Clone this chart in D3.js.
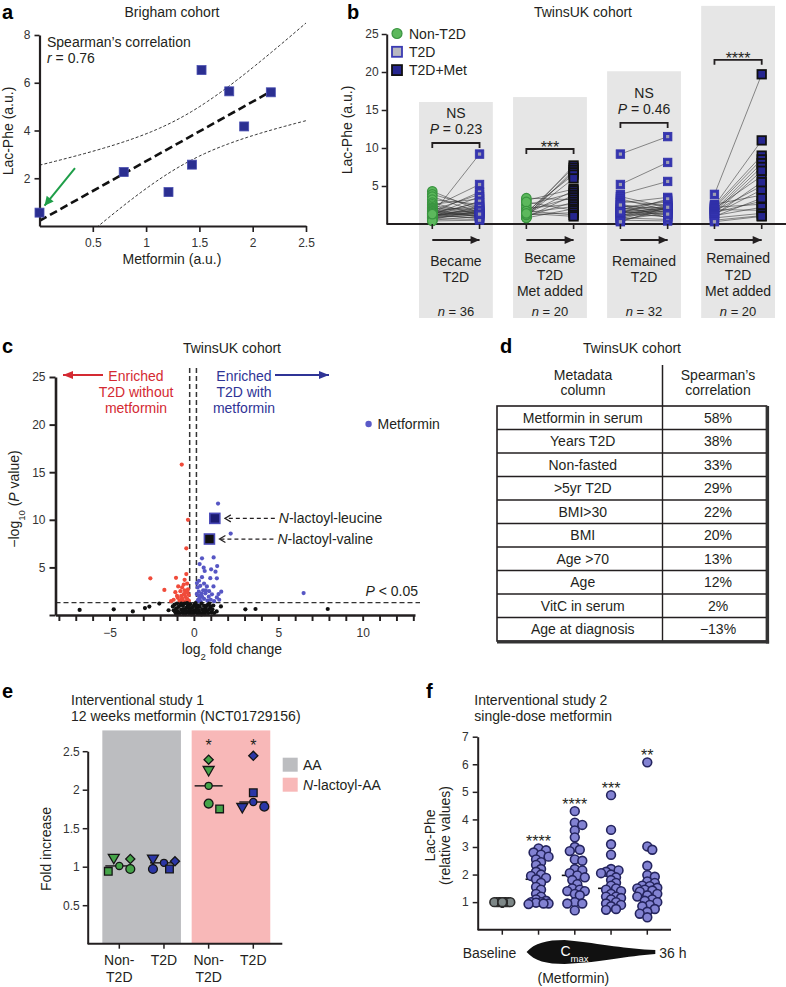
<!DOCTYPE html>
<html>
<head>
<meta charset="utf-8">
<title>Lac-Phe and metformin</title>
<script src="https://cdn.jsdelivr.net/npm/d3@7"></script>
<style>
  body { margin: 0; background: #fff; }
  svg { display: block; font-family: "Liberation Sans", Arial, sans-serif; }
</style>
</head>
<body>
<script>
// ---------------- data ----------------

// a: Brigham cohort
const brighamMetformin = [0.00, 0.79, 1.21, 1.43, 1.52, 1.78, 1.92, 2.17];
const brighamLacPhe    = [0.56, 2.26, 1.42, 2.57, 6.53, 5.64, 4.17, 5.60];
const aXTicks = [0.5, 1, 1.5, 2, 2.5];
const aYTicks = [2, 4, 6, 8];

// b: TwinsUK paired samples (before -> after)
const bGroups = ['Became T2D', 'Became T2D, Met added', 'Remained T2D', 'Remained T2D, Met added'];
const bLabelLines = [['Became', 'T2D'], ['Became', 'T2D', 'Met added'], ['Remained', 'T2D'], ['Remained', 'T2D', 'Met added']];
const bN = [36, 20, 32, 20];
const bPreKind  = ['non', 'non', 't2d', 't2d'];
const bPostKind = ['t2d', 'met', 't2d', 'met'];
const bPre = [
  [1.3, 4.3, 3.9, 3.6, 3.2, 2.8, 2.6, 2.4, 2.2, 2.1, 2.0, 1.9, 1.8, 1.7, 1.6, 1.6, 1.5, 1.5, 1.4, 1.4, 1.3, 1.2, 1.2, 1.1, 1.1, 1.0, 1.0, 0.9, 0.9, 0.8, 0.8, 0.7, 0.6, 0.5, 0.4, 1.3],
  [1.0, 1.4, 0.9, 1.2, 1.6, 1.1, 3.1, 1.3, 2.5, 0.9, 1.8, 3.4, 1.0, 2.1, 1.5, 0.8, 2.9, 1.2, 1.7, 1.4],
  [9.2, 5.2, 3.9, 3.6, 3.3, 3.0, 2.8, 2.6, 2.4, 2.2, 2.1, 2.0, 1.9, 1.8, 1.7, 1.6, 1.5, 1.5, 1.4, 1.3, 1.2, 1.1, 1.0, 0.9, 0.8, 0.7, 0.6, 0.5, 0.4, 0.3, 2.5, 1.6],
  [3.9, 2.6, 2.4, 2.3, 2.2, 2.1, 2.0, 1.9, 1.8, 1.7, 1.6, 1.5, 1.4, 1.3, 1.2, 1.1, 1.0, 0.8, 0.5, 0.3]
];
const bPost = [
  [9.2, 1.8, 2.2, 1.5, 2.6, 1.2, 3.3, 1.6, 5.2, 1.4, 2.0, 0.9, 3.9, 1.3, 2.4, 1.0, 4.2, 1.7, 2.8, 1.1, 0.7, 3.6, 1.5, 2.1, 0.8, 3.0, 1.9, 1.6, 2.3, 1.2, 1.4, 0.6, 1.8, 1.0, 0.5, 1.3],
  [7.7, 7.4, 7.1, 6.8, 6.5, 6.0, 4.6, 4.4, 4.1, 3.8, 3.5, 3.2, 2.9, 2.6, 2.3, 2.0, 1.8, 1.5, 1.2, 1.0],
  [11.5, 8.1, 5.6, 2.2, 1.8, 2.4, 3.5, 1.5, 2.0, 2.9, 1.2, 2.2, 3.1, 1.9, 0.9, 2.7, 1.7, 2.1, 3.3, 1.0, 2.0, 2.5, 1.6, 2.3, 0.6, 2.1, 1.4, 0.4, 1.9, 2.2, 0.8, 1.3],
  [19.7, 3.8, 11.0, 9.0, 2.6, 8.5, 6.3, 1.8, 8.0, 5.0, 7.5, 3.0, 7.0, 4.5, 5.5, 2.2, 3.4, 1.4, 1.1, 1.0]
];
const bSig = ['NS', '***', 'NS', '****'];
const bPValue = [0.23, null, 0.46, null];
const bYTicks = [5, 10, 15, 20, 25];

// c: volcano plot (log2 fold change, -log10 P)
const volcanoLog2FC = [
  // enriched without metformin
  -0.72, -0.35, -0.45, -0.45, -2.58, -1.06, -1.75, -0.55, -0.93, -1.10, -0.70, -0.40, -0.60, -0.80, -0.35, -0.50,
  -0.95, -1.20, -0.65, -0.40, -0.30, -0.75, -0.55, -0.85, -0.45, -1.00, -0.30, -0.60, -0.38, -0.70, -0.50, -1.35,
  // enriched with metformin
  1.43, 2.18, 6.50, 0.48, 1.17, 0.34, 0.58, 0.64, 1.02, 1.38, 1.28, 0.48, 0.97, 1.36, 0.18, 0.38, 0.77, 1.16, 1.62, 1.46,
  1.07, 0.88, 0.68, 0.29, 0.48, 0.17, 1.36, 0.25, 0.40, 0.60, 0.30, 0.55, 0.22, 0.80, 1.00, 0.45, 0.35, 0.70, 0.20, 1.20,
  0.90, 0.60, 0.30, 1.50,
  // not significant
  -6.77, -4.75, -3.62, -2.90, -2.64, -2.05, 3.05, 3.65, 7.93, 1.35, 0.96, 1.60, 1.20, -1.50,
  -1.25, -1.20, -1.15, -1.10, -1.05, -1.00, -0.95, -0.90, -0.85, -0.80, -0.75, -0.70, -0.65, -0.60, -0.55, -0.50,
  -0.45, -0.40, -0.35, -0.30, -0.25, -0.20, -0.15, -0.10, -0.05, 0.00, 0.05, 0.10, 0.15, 0.20, 0.25, 0.30,
  0.35, 0.40, 0.45, 0.50, 0.55, 0.60, 0.65, 0.70, 0.75, 0.80, 0.85, 0.90, 1.00, 1.05, 1.10, 1.15,
  -0.90, -0.60, -0.30, 0.00, 0.20, -0.15, -0.50, 0.45, 0.75, -0.75, -1.05, 0.10, -0.20, 0.60, -0.40, 0.30,
  -0.65, 0.90, -0.10, 0.15
];
const volcanoNegLogP = [
  15.8, 10.0, 7.0, 4.3, 3.85, 3.9, 2.63, 3.7, 3.0, 2.4, 2.9, 3.3, 2.2, 2.5, 2.7, 1.9,
  1.8, 1.6, 1.5, 1.7, 2.1, 2.0, 2.6, 1.5, 1.45, 2.0, 1.5, 3.2, 2.4, 1.75, 2.3, 1.45,
  11.7, 8.55, 2.3, 5.95, 6.05, 5.35, 4.97, 4.62, 4.8, 5.14, 4.55, 3.97, 3.87, 3.85, 3.35, 3.06, 3.0, 3.0, 2.45, 2.2,
  2.17, 1.92, 2.28, 2.45, 1.92, 2.2, 1.85, 1.6, 1.45, 1.7, 2.0, 2.6, 2.9, 1.5, 1.6, 2.25, 1.8, 2.6, 1.4, 1.45,
  2.5, 3.3, 3.6, 1.6,
  0.53, 0.6, 0.38, 0.73, 0.88, 1.2, 0.6, 0.63, 0.63, 0.38, 0.73, 0.9, 0.2, 0.5,
  0.9, 0.5, 1.1, 0.3, 0.7, 1.2, 0.4, 0.85, 0.15, 1.05, 0.55, 0.25, 0.95, 0.6, 1.2, 0.1,
  0.75, 0.4, 1.0, 0.2, 0.65, 1.15, 0.35, 0.8, 0.1, 0.5, 1.1, 0.3, 0.7, 0.15, 1.0, 0.45,
  0.85, 0.2, 1.2, 0.6, 0.3, 0.95, 0.1, 0.7, 0.4, 1.05, 0.2, 0.55, 0.9, 0.25, 0.6, 1.0,
  0.2, 0.1, 0.9, 0.95, 0.55, 0.05, 0.45, 0.05, 0.95, 1.2, 0.05, 1.25, 0.5, 0.45, 1.25, 0.1,
  0.4, 1.2, 0.25, 0.95
];
const volcanoHighlights = [
  { name: 'Metformin', lfc: 10.35, p: 20.06 },
  { name: 'N-lactoyl-leucine', lfc: 1.24, p: 10.15 },
  { name: 'N-lactoyl-valine', lfc: 0.92, p: 7.98 }
];
const lfcCut = [-0.25, 0.15];
const pCut = 1.3;   // -log10(0.05)
const cXTickLabels = [-5, 0, 5, 10];
const cYTicks = [0, 5, 10, 15, 20, 25];

// d: correlation table
const metaColumn = ['Metformin in serum', 'Years T2D', 'Non-fasted', '>5yr T2D', 'BMI>30', 'BMI', 'Age >70', 'Age', 'VitC in serum', 'Age at diagnosis'];
const spearmanPct = [58, 38, 33, 29, 22, 20, 13, 12, 2, -13];

// e: interventional study 1 (fold increase), five subjects per group
const eCategoryLines = [['Non-', 'T2D'], ['T2D'], ['Non-', 'T2D'], ['T2D']];
const eCohort = ['non', 't2d', 'non', 't2d'];
const eShapes = ['dot', 'circle', 'diamond', 'square', 'triangle'];
const eValues = [
  [1.01, 0.97, 1.10, 0.94, 1.12],
  [1.05, 0.97, 1.07, 0.97, 1.11],
  [2.05, 1.82, 2.39, 1.75, 2.26],
  [1.84, 1.78, 2.44, 1.96, 1.78]
];
const eSig = [null, null, '*', '*'];
const eYTicks = [0.5, 1, 1.5, 2, 2.5];

// f: interventional study 2 (relative Lac-Phe)
const fTimes = ['Baseline', 't1', 'Cmax', 't3', '36 h'];
const fValues = [
  [1.0, 1.0, 1.0, 1.0, 1.0, 1.0, 1.0, 1.0, 1.0, 1.0, 1.0, 1.0, 1.0, 1.0, 1.0, 1.0, 1.0, 1.0, 1.0, 1.0, 1.0, 1.0, 1.0, 1.0, 1.0, 1.0, 1.0],
  [2.95, 2.88, 2.8, 2.72, 2.65, 2.55, 2.45, 2.35, 2.2, 2.1, 2.0, 1.95, 1.88, 1.83, 1.7, 1.55, 1.45, 1.3, 1.2, 1.1, 1.05, 1.0, 1.0, 0.98, 0.95, 0.95, 0.93],
  [4.3, 3.88, 3.8, 3.6, 3.35, 3.0, 2.9, 2.85, 2.55, 2.5, 2.2, 2.15, 2.05, 1.97, 1.9, 1.8, 1.65, 1.5, 1.45, 1.4, 1.4, 1.3, 1.25, 1.0, 0.95, 0.95, 0.7],
  [4.88, 3.62, 3.1, 2.72, 2.2, 2.15, 2.1, 2.05, 2.0, 1.9, 1.8, 1.7, 1.6, 1.5, 1.45, 1.4, 1.3, 1.2, 1.2, 1.15, 1.1, 1.0, 0.95, 0.9, 0.85, 0.75, 0.72],
  [6.07, 3.02, 2.9, 2.32, 1.98, 1.92, 1.75, 1.7, 1.6, 1.58, 1.52, 1.5, 1.45, 1.42, 1.38, 1.3, 1.25, 1.2, 1.1, 1.05, 1.0, 0.9, 0.85, 0.75, 0.65, 0.58, 0.45]
];
const fSig = [null, '****', '****', '***', '**'];
const fYTicks = [1, 2, 3, 4, 5, 6, 7];

// ---------------- drawing ----------------
const INK = '#231f20';
const GREEN = '#5cb85c', GREEN_D = '#3a9440';
const NAVY = '#2b2f91';
const svg = d3.select('body').append('svg').attr('width', 786).attr('height', 987);
const defs = svg.append('defs');

function txt(g, x, y, s, o = {}) {
  const t = g.append('text').attr('x', x).attr('y', y)
    .attr('font-size', o.size || 14).attr('fill', o.fill || INK)
    .attr('text-anchor', o.anchor || 'start');
  if (o.weight) t.attr('font-weight', o.weight);
  if (o.italic) t.attr('font-style', 'italic');
  if (o.rotate) t.attr('transform', `rotate(${o.rotate},${x},${y})`);
  if (s != null) t.text(s);
  return t;
}
function rich(g, x, y, parts, o = {}) {
  const t = txt(g, x, y, null, o);
  parts.forEach(p => {
    const [s, f] = Array.isArray(p) ? p : [p, ''];
    const sp = t.append('tspan').text(s);
    if (f === 'i') sp.attr('font-style', 'italic');
    if (f === 'sub') sp.attr('baseline-shift', 'sub').attr('font-size', (o.size || 14) * 0.68);
  });
  return t;
}
function letter(g, x, y, s) { txt(g, x, y, s, { size: 20, weight: 'bold', fill: '#000' }); }

function styleAxis(g, lw) {
  g.attr('font-family', null).attr('font-size', null);
  g.select('.domain').attr('stroke', INK).attr('stroke-width', lw);
  g.selectAll('.tick line').attr('stroke', INK).attr('stroke-width', lw * 0.75);
  g.selectAll('.tick text').attr('font-size', 12).attr('fill', '#333');
}

function arrowMarker(id, color, len, half, open) {
  const m = defs.append('marker').attr('id', id).attr('markerUnits', 'userSpaceOnUse')
    .attr('viewBox', `-1 ${-half - 1} ${len + 2} ${2 * half + 2}`)
    .attr('refX', len).attr('refY', 0)
    .attr('markerWidth', len + 2).attr('markerHeight', 2 * half + 2).attr('orient', 'auto');
  m.append('path').attr('d', `M0,${-half}L${len},0L0,${half}` + (open ? '' : 'Z'))
    .attr('fill', open ? 'none' : color).attr('stroke', open ? color : 'none')
    .attr('stroke-width', 1.2);
}
arrowMarker('arBlack', INK, 9, 4, false);
arrowMarker('arGreen', '#1e9e48', 9, 4.5, false);
arrowMarker('arRed', '#d42a32', 10, 4, false);
arrowMarker('arBlue', '#2f3496', 10, 4, false);
arrowMarker('arOpen', INK, 6, 3.5, true);

// simple deterministic beeswarm: returns x offsets
function swarm(values, yScale, step, maxHalf, dist) {
  const cands = [0];
  for (let k = 1; k * step <= maxHalf + 1e-9; k++) cands.push(k * step, -k * step);
  const placed = [];
  return values.map(v => {
    const py = yScale(v);
    let best = 0, bestD = -1;
    for (const c of cands) {
      let m = Infinity;
      for (const p of placed) m = Math.min(m, Math.hypot(p[0] - c, p[1] - py));
      if (m >= dist) { best = c; bestD = m; break; }
      if (m > bestD) { bestD = m; best = c; }
    }
    placed.push([best, py]);
    return best;
  });
}

// ===== panel a =====
{
  const g = svg.append('g');
  letter(g, 2, 19, 'a');
  txt(g, 172, 17, 'Brigham cohort', { anchor: 'middle' });
  const x = d3.scaleLinear().domain([0, 2.5]).range([39.5, 306]);
  const y = d3.scaleLinear().domain([0, 8]).range([226, 35]);

  defs.append('clipPath').attr('id', 'clipA').append('rect')
    .attr('x', x(0)).attr('y', 0).attr('width', x(2.5) - x(0)).attr('height', y(0));

  // least-squares fit with 90% confidence band
  const n = brighamMetformin.length;
  const mx = d3.mean(brighamMetformin), my = d3.mean(brighamLacPhe);
  const sxx = d3.sum(brighamMetformin, v => (v - mx) ** 2);
  const sxy = d3.sum(brighamMetformin.map((v, i) => (v - mx) * (brighamLacPhe[i] - my)));
  const slope = sxy / sxx, icpt = my - slope * mx;
  const sRes = Math.sqrt(d3.sum(brighamMetformin.map((v, i) => (brighamLacPhe[i] - icpt - slope * v) ** 2)) / (n - 2));
  const tCrit = 1.943;
  const xs = d3.range(0, 2.5001, 0.025);
  const half = v => tCrit * sRes * Math.sqrt(1 / n + (v - mx) ** 2 / sxx);
  const bandLine = sign => d3.line().x(v => x(v)).y(v => y(icpt + slope * v + sign * half(v)));
  [-1, 1].forEach(s => g.append('path').attr('d', bandLine(s)(xs)).attr('clip-path', 'url(#clipA)')
    .attr('fill', 'none').attr('stroke', '#333').attr('stroke-width', 1).attr('stroke-dasharray', '3,2'));
  g.append('line')
    .attr('x1', x(0)).attr('y1', y(icpt))
    .attr('x2', x(d3.max(brighamMetformin))).attr('y2', y(icpt + slope * d3.max(brighamMetformin)))
    .attr('stroke', '#111').attr('stroke-width', 2.6).attr('stroke-dasharray', '8,4');

  g.append('g').attr('transform', `translate(0,${y(0)})`)
    .call(d3.axisBottom(x).tickValues(aXTicks).tickFormat(d => d).tickSize(6).tickSizeOuter(0).tickPadding(6))
    .call(styleAxis, 2.2);
  g.append('g').attr('transform', `translate(${x(0)},0)`)
    .call(d3.axisLeft(y).tickValues(aYTicks).tickSize(5).tickSizeOuter(0).tickPadding(4))
    .call(styleAxis, 2.2);

  g.selectAll('rect.pt').data(brighamMetformin).enter().append('rect').attr('class', 'pt')
    .attr('x', d => x(d) - 4.5).attr('y', (d, i) => y(brighamLacPhe[i]) - 4.5)
    .attr('width', 9).attr('height', 9).attr('fill', NAVY).attr('stroke', '#4a4fb0').attr('stroke-width', 0.8);

  txt(g, 47, 47, 'Spearman\u2019s correlation');
  rich(g, 47, 63, [['r', 'i'], ' = 0.76']);
  txt(g, 172, 264, 'Metformin (a.u.)', { anchor: 'middle' });
  txt(g, 13, 131, 'Lac-Phe (a.u.)', { anchor: 'middle', rotate: -90 });

  // arrow pointing to the metformin-free sample
  const px = x(brighamMetformin[0]), py = y(brighamLacPhe[0]);
  g.append('line').attr('x1', px + 35.5).attr('y1', py - 44.5).attr('x2', px + 5).attr('y2', py - 7)
    .attr('stroke', '#1e9e48').attr('stroke-width', 2).attr('marker-end', 'url(#arGreen)');
}

// ===== panel b =====
{
  const g = svg.append('g');
  letter(g, 347, 19, 'b');
  txt(g, 583, 17, 'TwinsUK cohort', { anchor: 'middle' });
  const y = d3.scaleLinear().domain([0, 25]).range([224, 34]);
  const x = d3.scaleBand().domain(bGroups).range([419, 775]).paddingInner(0.215);
  const bw = x.bandwidth();
  const shadeTop = [16.05, 16.7, 20.1, 28.7];
  const bracketAt = [10.66, 9.87, 13.3, 21.6];
  const shadeBottom = 318;
  const preX = d => x(d) + bw / 2 - bw * 0.32, postX = d => x(d) + bw / 2 + bw * 0.32;

  g.selectAll('rect.shade').data(bGroups).enter().append('rect').attr('class', 'shade')
    .attr('x', d => x(d)).attr('width', bw)
    .attr('y', (d, i) => y(shadeTop[i])).attr('height', (d, i) => shadeBottom - y(shadeTop[i]))
    .attr('fill', '#e6e6e6');

  // baseline axis
  g.append('line').attr('x1', 386.7).attr('x2', 786).attr('y1', y(0)).attr('y2', y(0))
    .attr('stroke', INK).attr('stroke-width', 2);
  g.append('g').attr('transform', 'translate(386.7,0)')
    .call(d3.axisLeft(y).tickValues(bYTicks).tickSize(5).tickSizeOuter(0).tickPadding(3))
    .call(styleAxis, 2);
  txt(g, 352, 130, 'Lac-Phe (a.u.)', { anchor: 'middle', rotate: -90 });

  const marker = (sel, kind, size, legend) => {
    if (kind === 'non') {
      sel.append('circle').attr('r', size / 2).attr('fill', GREEN).attr('stroke', GREEN_D).attr('stroke-width', 1.2);
    } else if (kind === 't2d') {
      if (legend) {
        sel.append('rect').attr('x', -size / 2).attr('y', -size / 2).attr('width', size).attr('height', size)
          .attr('fill', '#b8b8c0').attr('stroke', '#3a3ab2').attr('stroke-width', 1.8);
      } else {
        sel.append('rect').attr('x', -size / 2).attr('y', -size / 2).attr('width', size).attr('height', size)
          .attr('fill', '#3535b0').attr('stroke', '#3030a8').attr('stroke-width', 0.8);
        sel.append('rect').attr('x', -1.6).attr('y', -1.6).attr('width', 3.2).attr('height', 3.2).attr('fill', '#9d9db0');
      }
    } else {
      sel.append('rect').attr('x', -size / 2).attr('y', -size / 2).attr('width', size).attr('height', size)
        .attr('fill', '#262690').attr('stroke', '#111').attr('stroke-width', 1.8);
    }
  };

  bGroups.forEach((grp, gi) => {
    const pre = bPre[gi], post = bPost[gi];
    g.append('g').selectAll('line').data(pre).enter().append('line')
      .attr('x1', preX(grp)).attr('y1', d => y(d))
      .attr('x2', postX(grp)).attr('y2', (d, i) => y(post[i]))
      .attr('stroke', '#333').attr('stroke-opacity', 0.55).attr('stroke-width', 1);
    pre.forEach(v => marker(g.append('g').attr('transform', `translate(${preX(grp)},${y(v)})`), bPreKind[gi], bPreKind[gi] === 'non' ? 9.5 : 8.5));
    post.forEach(v => marker(g.append('g').attr('transform', `translate(${postX(grp)},${y(v)})`), bPostKind[gi], 8.5));

    // ticks under the baseline
    [preX(grp), postX(grp)].forEach(xx => g.append('line').attr('x1', xx).attr('x2', xx)
      .attr('y1', y(0)).attr('y2', y(0) + 5).attr('stroke', INK).attr('stroke-width', 1.6));

    // significance bracket
    const by = y(bracketAt[gi]);
    g.append('path').attr('d', `M${preX(grp)},${by + 5}V${by}H${postX(grp)}V${by + 5}`)
      .attr('fill', 'none').attr('stroke', INK).attr('stroke-width', 1.8);
    const cx = (preX(grp) + postX(grp)) / 2;
    if (bPValue[gi] != null) {
      txt(g, cx, by - 25, bSig[gi], { anchor: 'middle' });
      rich(g, cx, by - 8.5, [['P', 'i'], ' = ' + bPValue[gi].toFixed(2)], { anchor: 'middle' });
    } else {
      txt(g, cx, by + 4, bSig[gi], { anchor: 'middle', size: 16 });
    }

    // time arrow and labels
    g.append('line').attr('x1', preX(grp)).attr('x2', postX(grp)).attr('y1', 240).attr('y2', 240)
      .attr('stroke', INK).attr('stroke-width', 1.8).attr('marker-end', 'url(#arBlack)');
    const lines = bLabelLines[gi];
    const y0 = lines.length === 2 ? 265.5 : 263;
    lines.forEach((s, li) => txt(g, cx, y0 + li * 16.5, s, { anchor: 'middle' }));
    rich(g, cx, 316, [['n', 'i'], ' = ' + bN[gi]], { anchor: 'middle', size: 13 });
  });

  // legend
  const leg = [['non', 'Non-T2D'], ['t2d', 'T2D'], ['met', 'T2D+Met']];
  leg.forEach(([k, s], i) => {
    const ly = 33.5 + i * 18.3;
    marker(g.append('g').attr('transform', `translate(397,${ly})`), k, 10, true);
    txt(g, 409, ly + 5, s);
  });
}

// ===== panel c =====
{
  const g = svg.append('g');
  letter(g, 2, 353, 'c');
  txt(g, 232, 353, 'TwinsUK cohort', { anchor: 'middle' });
  const x = d3.scaleLinear().domain([-8.2, 13.1]).range([55.5, 415]);
  const y = d3.scaleLinear().domain([0, 25]).range([615, 377]);
  const RED = '#f04b3a', BLUE = '#5656c4';

  // threshold lines
  lfcCut.forEach(c => g.append('line').attr('x1', x(c)).attr('x2', x(c)).attr('y1', 368).attr('y2', y(0))
    .attr('stroke', '#333').attr('stroke-width', 1.5).attr('stroke-dasharray', '5,3'));
  g.append('line').attr('x1', x.range()[0]).attr('x2', 420).attr('y1', y(pCut)).attr('y2', y(pCut))
    .attr('stroke', '#333').attr('stroke-width', 1.3).attr('stroke-dasharray', '5,3');

  const col = (lfc, p) => p > pCut && lfc < lfcCut[0] ? RED : p > pCut && lfc > lfcCut[1] ? BLUE : '#111';
  g.selectAll('circle.v').data(volcanoLog2FC).enter().append('circle').attr('class', 'v')
    .attr('cx', d => x(d)).attr('cy', (d, i) => y(volcanoNegLogP[i])).attr('r', 2.1)
    .attr('fill', (d, i) => col(d, volcanoNegLogP[i]));

  g.append('g').attr('transform', `translate(0,${y(0)})`)
    .call(d3.axisBottom(x).tickValues(d3.range(-8, 14)).tickSize(6).tickSizeOuter(0).tickPadding(7)
      .tickFormat(d => cXTickLabels.includes(d) ? d3.format('')(d) : ''))
    .call(styleAxis, 2.6);
  g.append('g').attr('transform', `translate(${x.range()[0]},0)`)
    .call(d3.axisLeft(y).tickValues(cYTicks).tickSize(6).tickSizeOuter(0).tickPadding(4)
      .tickFormat(d => d === 0 ? '' : d))
    .call(styleAxis, 2.6);

  rich(g, 232, 654, ['log', ['2', 'sub'], ' fold change'], { anchor: 'middle' });
  rich(g, 19, 499, ['\u2212log', ['10', 'sub'], ' (', ['P', 'i'], ' value)'], { anchor: 'middle', rotate: -90 });
  rich(g, 418, 596, [['P', 'i'], ' < 0.05'], { anchor: 'end' });

  // enrichment annotations
  const redT = '#d42a32', blueT = '#2f3496';
  ['Enriched', 'T2D without', 'metformin'].forEach((s, i) => txt(g, 136, 380.5 + i * 16, s, { anchor: 'middle', fill: redT }));
  ['Enriched', 'T2D with', 'metformin'].forEach((s, i) => txt(g, 244, 380.5 + i * 16, s, { anchor: 'middle', fill: blueT }));
  g.append('line').attr('x1', 103).attr('x2', 63).attr('y1', 375).attr('y2', 375)
    .attr('stroke', redT).attr('stroke-width', 2).attr('marker-end', 'url(#arRed)');
  g.append('line').attr('x1', 275).attr('x2', 329).attr('y1', 375).attr('y2', 375)
    .attr('stroke', blueT).attr('stroke-width', 2).attr('marker-end', 'url(#arBlue)');

  // highlighted metabolites
  const [met, leu, val] = volcanoHighlights;
  g.append('circle').attr('cx', x(met.lfc)).attr('cy', y(met.p)).attr('r', 3.2).attr('fill', '#5a5ac8');
  txt(g, x(met.lfc) + 9, y(met.p) + 5, met.name);
  [[leu, '#1c1c72'], [val, '#111']].forEach(([h, fill], i) => {
    const hx = x(h.lfc), hy = y(h.p);
    g.append('rect').attr('x', hx - 5).attr('y', hy - 5).attr('width', 10).attr('height', 10)
      .attr('fill', fill).attr('stroke', '#4a4ab8').attr('stroke-width', 1.6);
    const tx = hx + 64 + (i ? 4 : 0);
    g.append('line').attr('x1', tx - 4).attr('x2', hx + 10).attr('y1', hy).attr('y2', hy)
      .attr('stroke', INK).attr('stroke-width', 1.2).attr('stroke-dasharray', '4,3').attr('marker-end', 'url(#arOpen)');
    rich(g, tx, hy + 5, [['N', 'i'], h.name.slice(1)]);
  });
}

// ===== panel d =====
{
  const g = svg.append('g');
  letter(g, 500, 353, 'd');
  txt(g, 632, 353, 'TwinsUK cohort', { anchor: 'middle' });
  const tL = 497, tR = 766.5, tM = 662.5;
  const ry = d3.scaleBand().domain(d3.range(metaColumn.length)).range([406, 641]);
  const top = ry.range()[0], bot = ry.range()[1];
  txt(g, 583, 380, 'Metadata', { anchor: 'middle' });
  txt(g, 583, 395, 'column', { anchor: 'middle' });
  txt(g, 718, 380, 'Spearman\u2019s', { anchor: 'middle' });
  txt(g, 718, 395, 'correlation', { anchor: 'middle' });
  g.append('line').attr('x1', tM).attr('x2', tM).attr('y1', 365).attr('y2', top).attr('stroke', INK).attr('stroke-width', 1.5);

  g.append('rect').attr('x', tL).attr('y', top).attr('width', tR - tL).attr('height', bot - top)
    .attr('fill', 'none').attr('stroke', INK).attr('stroke-width', 1.6);
  g.selectAll('line.row').data(d3.range(1, metaColumn.length)).enter().append('line').attr('class', 'row')
    .attr('x1', tL).attr('x2', tR).attr('y1', d => ry(d)).attr('y2', d => ry(d))
    .attr('stroke', INK).attr('stroke-width', 1.4);
  g.append('line').attr('x1', tM).attr('x2', tM).attr('y1', top).attr('y2', bot).attr('stroke', INK).attr('stroke-width', 1.4);
  g.append('line').attr('x1', tR + 1).attr('x2', tR + 1).attr('y1', top).attr('y2', bot + 2.5).attr('stroke', '#333').attr('stroke-width', 3.2);
  g.append('line').attr('x1', tL).attr('x2', tR + 2.6).attr('y1', bot + 1).attr('y2', bot + 1).attr('stroke', '#333').attr('stroke-width', 3.2);

  const h = ry.bandwidth();
  g.selectAll('text.mc').data(metaColumn).enter().append('text').attr('class', 'mc')
    .attr('x', (tL + tM) / 2 + 3).attr('y', (d, i) => ry(i) + h / 2 + 5)
    .attr('text-anchor', 'middle').attr('font-size', 14).attr('fill', INK).text(d => d);
  g.selectAll('text.sc').data(spearmanPct).enter().append('text').attr('class', 'sc')
    .attr('x', (tM + tR) / 2 + 3.5).attr('y', (d, i) => ry(i) + h / 2 + 5)
    .attr('text-anchor', 'middle').attr('font-size', 14).attr('fill', INK)
    .text(d => (d < 0 ? '\u2212' : '') + Math.abs(d) + '%');
}

// ===== panel e =====
{
  const g = svg.append('g');
  letter(g, 2, 698, 'e');
  txt(g, 71, 705, 'Interventional study 1');
  txt(g, 71, 721, '12 weeks metformin (NCT01729156)');
  const y = d3.scaleLinear().domain([0, 2.5]).range([943.7, 751.2]);
  const x = d3.scalePoint().domain(d3.range(eValues.length)).range([119.3, 253.3]);
  const step = x.step();
  const shadeTop = 2.77;
  [['#bcbdc0', 0], ['#f8b8b8', 2]].forEach(([fill, i0]) => {
    const cx = (x(i0) + x(i0 + 1)) / 2;
    g.append('rect').attr('x', cx - step * 0.88).attr('width', step * 1.76)
      .attr('y', y(shadeTop)).attr('height', y(0) - y(shadeTop)).attr('fill', fill);
  });

  g.append('g').attr('transform', 'translate(87.7,0)')
    .call(d3.axisLeft(y).tickValues(eYTicks).tickFormat(d => d).tickSize(5).tickSizeOuter(0).tickPadding(3))
    .call(styleAxis, 2);
  g.append('line').attr('x1', 87.7).attr('x2', 282.3).attr('y1', y(0)).attr('y2', y(0)).attr('stroke', INK).attr('stroke-width', 2);
  x.domain().forEach(i => {
    g.append('line').attr('x1', x(i)).attr('x2', x(i)).attr('y1', y(0)).attr('y2', y(0) + 5).attr('stroke', INK).attr('stroke-width', 1.5);
    eCategoryLines[i].forEach((s, li) => txt(g, x(i), 965 + li * 16.5, s, { anchor: 'middle' }));
  });
  txt(g, 51, 849, 'Fold increase', { anchor: 'middle', rotate: -90 });

  const symbols = {
    dot: d3.symbol(d3.symbolCircle, 40), circle: d3.symbol(d3.symbolCircle, 62),
    square: d3.symbol(d3.symbolSquare, 58), diamond: d3.symbol(d3.symbolSquare, 42),
    triangle: d3.symbol(d3.symbolTriangle, 52)
  };
  eValues.forEach((vals, gi) => {
    const med = d3.median(vals);
    g.append('line').attr('x1', x(gi) - 14).attr('x2', x(gi) + 14).attr('y1', y(med)).attr('y2', y(med))
      .attr('stroke', INK).attr('stroke-width', 1.5);
    const order = d3.range(vals.length).sort((a, b) => Math.abs(vals[a] - med) - Math.abs(vals[b] - med));
    const offs = swarm(order.map(k => vals[k]), y, 5.5, 11, 9);
    order.forEach((k, j) => {
      const shp = eShapes[k];
      const rot = shp === 'diamond' ? 45 : shp === 'triangle' ? 180 : 0;
      g.append('path').attr('d', symbols[shp]())
        .attr('transform', `translate(${x(gi) + offs[j]},${y(vals[k])}) rotate(${rot})`)
        .attr('fill', eCohort[gi] === 'non' ? '#45a449' : '#2b36a6')
        .attr('stroke', '#151515').attr('stroke-width', 1.3);
    });
    if (eSig[gi]) txt(g, x(gi), y(2.5), eSig[gi], { anchor: 'middle', size: 16 });
  });

  // legend
  [['#bcbdc0', ['AA']], ['#f8b8b8', [['N', 'i'], '-lactoyl-AA']]].forEach(([fill, parts], i) => {
    const ly = 757.7 + i * 20;
    g.append('rect').attr('x', 282.7).attr('y', ly).attr('width', 15).attr('height', 14).attr('fill', fill);
    rich(g, 303, ly + 12, parts);
  });
}

// ===== panel f =====
{
  const g = svg.append('g');
  letter(g, 426, 698, 'f');
  txt(g, 474.3, 705, 'Interventional study 2');
  txt(g, 474.3, 721, 'single-dose metformin');
  const y = d3.scaleLinear().domain([0, 7]).range([929.7, 736.7]);
  const x = d3.scalePoint().domain(fTimes).range([502.3, 647.3]);

  g.append('g').attr('transform', 'translate(477.7,0)')
    .call(d3.axisLeft(y).tickValues(fYTicks).tickFormat(d => d).tickSize(5).tickSizeOuter(0).tickPadding(4))
    .call(styleAxis, 2);
  g.append('line').attr('x1', 477.7).attr('x2', 671).attr('y1', y(0)).attr('y2', y(0)).attr('stroke', INK).attr('stroke-width', 2);
  fTimes.forEach(t => g.append('line').attr('x1', x(t)).attr('x2', x(t)).attr('y1', y(0)).attr('y2', y(0) + 5)
    .attr('stroke', INK).attr('stroke-width', 1.5));
  txt(g, 435, 835.5, 'Lac-Phe', { anchor: 'middle', rotate: -90 });
  txt(g, 449.5, 835.5, '(relative values)', { anchor: 'middle', rotate: -90 });

  fValues.forEach((vals, gi) => {
    const t = fTimes[gi];
    const base = gi === 0;
    if (!base) {
      const med = d3.median(vals);
      g.append('line').attr('x1', x(t) - 13).attr('x2', x(t) + 11).attr('y1', y(med)).attr('y2', y(med))
        .attr('stroke', '#111').attr('stroke-width', 1.6);
    }
    const offs = base ? swarm(vals, y, 2, 9, 6) : swarm(vals, y, 2.5, 11, 5.5);
    vals.forEach((v, k) => g.append('circle').attr('cx', x(t) + offs[k]).attr('cy', y(v)).attr('r', 4.4)
      .attr('fill', base ? '#7d8787' : '#8282d2').attr('stroke', base ? '#2b2b2b' : '#24245e').attr('stroke-width', 1.6));
    if (fSig[gi]) txt(g, x(t), y(d3.max(vals)) - 1, fSig[gi], { anchor: 'middle', size: 16 });
  });

  // pharmacokinetic glyph under the axis
  const x0 = x(fTimes[1]) - 12, xm = x(fTimes[1]) + 26, x1 = x(fTimes[4]) + 8, cy = 952;
  g.append('path')
    .attr('d', `M${x0},${cy} C${x0 + 8},${cy - 9} ${x0 + 20},${cy - 12} ${xm},${cy - 12} ` +
      `C${xm + 40},${cy - 8} ${x1 - 30},${cy - 3} ${x1},${cy - 2} L${x1},${cy + 2} ` +
      `C${x1 - 30},${cy + 4} ${xm + 40},${cy + 10} ${xm},${cy + 12} C${x0 + 20},${cy + 12} ${x0 + 8},${cy + 9} ${x0},${cy} Z`)
    .attr('fill', '#111');
  rich(g, xm + 10, 956, ['C', ['max', 'sub']], { anchor: 'middle', fill: '#fff' });
  txt(g, 462.7, 958, 'Baseline');
  txt(g, x1 + 4, 958, '36 h');
  txt(g, 573.3, 983, '(Metformin)', { anchor: 'middle' });
}
</script>
</body>
</html>
